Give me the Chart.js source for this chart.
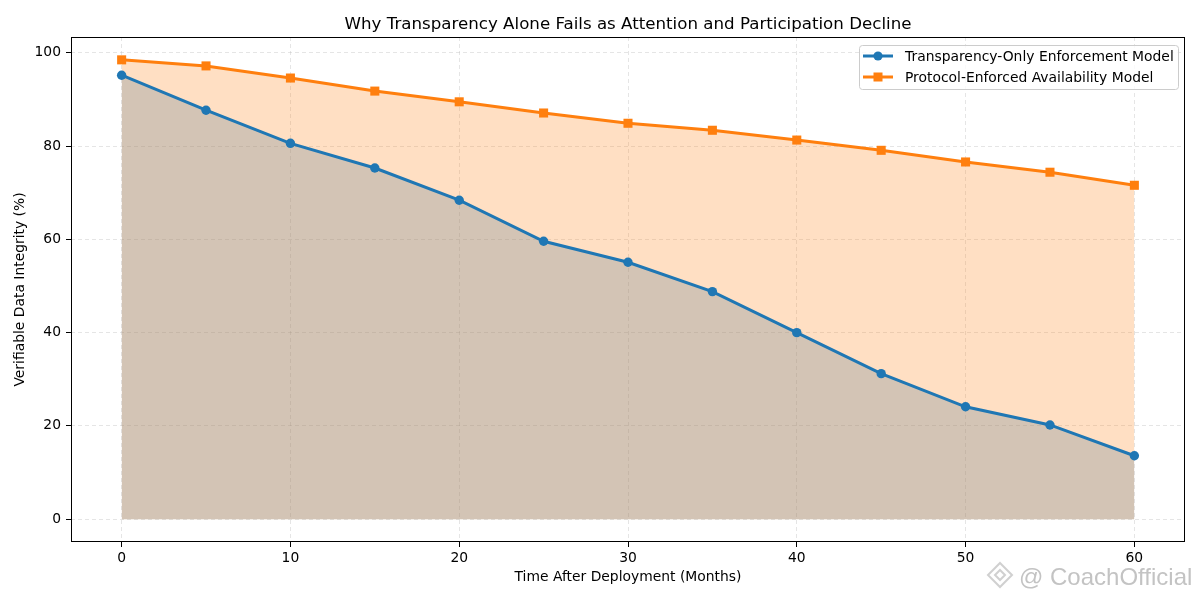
<!DOCTYPE html>
<html>
<head>
<meta charset="utf-8">
<script src="https://cdn.jsdelivr.net/npm/chart.js@4.4.1/dist/chart.umd.min.js"></script>
<style>
  html, body { margin: 0; padding: 0; background: #fff; }
  #wrap { width: 1200px; height: 600px; }
</style>
</head>
<body>
<div id="wrap"><canvas id="c" width="1200" height="600"></canvas></div>
<script>
const months = [0, 5, 10, 15, 20, 25, 30, 35, 40, 45, 50, 55, 60];
const transparencyOnly = [95.2, 87.7, 80.6, 75.3, 68.4, 59.6, 55.1, 48.8, 40.0, 31.2, 24.1, 20.2, 13.6];
const protocolEnforced = [98.5, 97.2, 94.6, 91.8, 89.5, 87.1, 84.9, 83.4, 81.3, 79.1, 76.6, 74.4, 71.6];
const seriesNames = ['Transparency-Only Enforcement Model', 'Protocol-Enforced Availability Model'];
const xTicks = [0, 10, 20, 30, 40, 50, 60];
const yTicks = [0, 20, 40, 60, 80, 100];
const chartTitle = 'Why Transparency Alone Fails as Attention and Participation Decline';
const xTitle = 'Time After Deployment (Months)';
const yTitle = 'Verifiable Data Integrity (%)';
const watermark = '@ CoachOfficial';

const BLUE = '#1f77b4';
const ORANGE = '#ff7f0e';
const FONT = "'DejaVu Sans', sans-serif";

const toPoints = (vals) => months.map((m, i) => ({ x: m, y: vals[i] }));

const framePlugin = {
  id: 'frame',
  afterDraw(chart) {
    const { ctx, chartArea: a } = chart;
    ctx.save();
    ctx.strokeStyle = '#000';
    ctx.lineWidth = 1;
    ctx.strokeRect(a.left + 0.5, a.top + 0.5, a.right - a.left - 1, a.bottom - a.top - 1);

    // Title
    ctx.fillStyle = '#000';
    ctx.font = '16.67px ' + FONT;
    ctx.textAlign = 'center';
    ctx.textBaseline = 'middle';
    ctx.fillText(chartTitle, (a.left + a.right) / 2, 24.5);

    // Legend
    const lx = 859, ly = 45, lw = 319, lh = 44;
    ctx.beginPath();
    if (ctx.roundRect) ctx.roundRect(lx + 0.5, ly + 0.5, lw, lh, 3); else ctx.rect(lx + 0.5, ly + 0.5, lw, lh);
    ctx.fillStyle = 'rgba(255,255,255,0.8)';
    ctx.fill();
    ctx.strokeStyle = '#cccccc';
    ctx.lineWidth = 1;
    ctx.stroke();
    const rows = [
      { y: 56, color: BLUE, style: 'circle', label: seriesNames[0] },
      { y: 77, color: ORANGE, style: 'rect', label: seriesNames[1] }
    ];
    rows.forEach(r => {
      ctx.strokeStyle = r.color;
      ctx.lineWidth = 3;
      ctx.beginPath();
      ctx.moveTo(863, r.y);
      ctx.lineTo(893, r.y);
      ctx.stroke();
      ctx.fillStyle = r.color;
      if (r.style === 'circle') {
        ctx.beginPath();
        ctx.arc(878, r.y, 4.6, 0, Math.PI * 2);
        ctx.fill();
      } else {
        ctx.fillRect(878 - 4.5, r.y - 4.5, 9, 9);
      }
      ctx.fillStyle = '#000';
      ctx.font = '13.89px ' + FONT;
      ctx.textAlign = 'left';
      ctx.textBaseline = 'middle';
      ctx.fillText(r.label, 905, r.y + 1);
    });

    // Watermark
    ctx.fillStyle = 'rgba(185,185,185,0.85)';
    ctx.font = "24px 'Liberation Sans', sans-serif";
    ctx.textAlign = 'left';
    ctx.textBaseline = 'alphabetic';
    ctx.fillText(watermark, 1019, 585);
    ctx.strokeStyle = 'rgba(200,200,200,0.85)';
    ctx.lineWidth = 2;
    ctx.beginPath();
    ctx.moveTo(1000, 563); ctx.lineTo(1012, 575); ctx.lineTo(1000, 587); ctx.lineTo(988, 575); ctx.closePath();
    ctx.stroke();
    ctx.beginPath();
    ctx.moveTo(1000, 570); ctx.lineTo(1005, 575); ctx.lineTo(1000, 580); ctx.lineTo(995, 575); ctx.closePath();
    ctx.stroke();
    ctx.restore();
  }
};

const gridOpts = {
  color: 'rgba(190,190,190,0.5)',
  lineWidth: 0.8,
  tickColor: '#000',
  tickLength: 5,
  tickWidth: 1,
  tickBorderDash: [],
  drawTicks: true
};
const borderOpts = { display: false, dash: [4, 3] };

new Chart(document.getElementById('c'), {
  type: 'line',
  data: {
    datasets: [
      {
        label: seriesNames[0],
        data: toPoints(transparencyOnly),
        borderColor: BLUE,
        backgroundColor: 'rgba(108,133,148,0.3)',
        borderWidth: 3,
        pointStyle: 'circle',
        pointRadius: 4.7,
        pointBackgroundColor: BLUE,
        pointBorderColor: BLUE,
        pointBorderWidth: 0,
        fill: 'origin',
        tension: 0
      },
      {
        label: seriesNames[1],
        data: toPoints(protocolEnforced),
        borderColor: ORANGE,
        backgroundColor: 'rgba(255,127,14,0.25)',
        borderWidth: 3,
        pointStyle: 'rect',
        pointRadius: 6.4,
        pointBackgroundColor: ORANGE,
        pointBorderColor: ORANGE,
        pointBorderWidth: 0,
        fill: 'origin',
        tension: 0
      }
    ]
  },
  options: {
    responsive: false,
    animation: false,
    devicePixelRatio: 1,
    layout: { padding: { top: 37, right: 15, left: 0, bottom: 0 } },
    plugins: {
      legend: { display: false },
      title: { display: false },
      tooltip: { enabled: false },
      filler: { propagate: false }
    },
    scales: {
      x: {
        type: 'linear',
        min: -3,
        max: 63,
        afterBuildTicks: (s) => { s.ticks = xTicks.map(v => ({ value: v })); },
        afterFit: (s) => { s.height = 58; },
        grid: gridOpts,
        border: borderOpts,
        ticks: { color: '#000', font: { family: FONT, size: 13.89 }, padding: 3, maxRotation: 0 },
        title: { display: true, text: xTitle, color: '#000', font: { family: FONT, size: 13.89 }, padding: { top: 0, bottom: 14.7 } }
      },
      y: {
        type: 'linear',
        min: -4.9,
        max: 103.4,
        afterBuildTicks: (s) => { s.ticks = yTicks.map(v => ({ value: v })); },
        afterFit: (s) => { s.width = 71; },
        grid: gridOpts,
        border: borderOpts,
        ticks: { color: '#000', font: { family: FONT, size: 13.89 }, padding: 5 },
        title: { display: true, text: yTitle, color: '#000', font: { family: FONT, size: 13.89 }, padding: { top: 11.7, bottom: 0 } }
      }
    }
  },
  plugins: [framePlugin]
});
</script>
</body>
</html>
